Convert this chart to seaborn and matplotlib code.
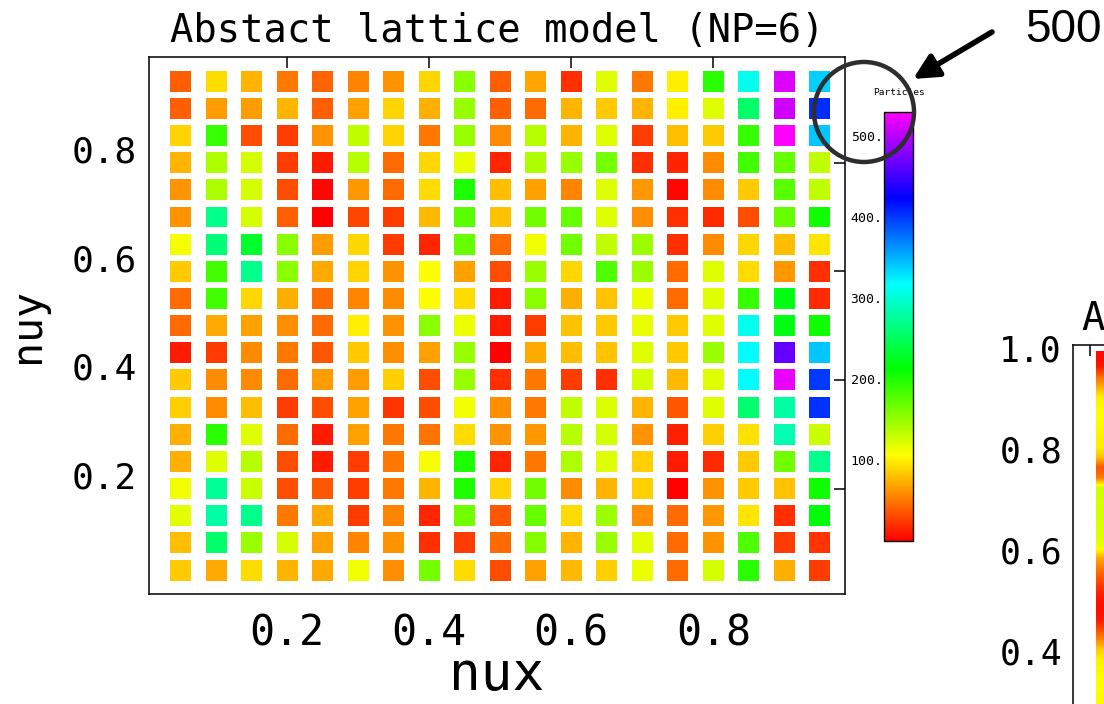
import numpy as np
import pandas as pd
import matplotlib
matplotlib.use("Agg")
import matplotlib.pyplot as plt
import seaborn as sns
from matplotlib.colors import ListedColormap, Normalize, hsv_to_rgb
from matplotlib.cm import ScalarMappable
from matplotlib.patches import Ellipse

# ---- data -------------------------------------------------------------
nux_values = [0.05, 0.10, 0.15, 0.20, 0.25, 0.30, 0.35, 0.40, 0.45, 0.50,
              0.55, 0.60, 0.65, 0.70, 0.75, 0.80, 0.85, 0.90, 0.95]
# rows listed from the top of the lattice (nuy = 0.95) down to nuy = 0.05
nuy_values = [0.95, 0.90, 0.85, 0.80, 0.75, 0.70, 0.65, 0.60, 0.55, 0.50,
              0.45, 0.40, 0.35, 0.30, 0.25, 0.20, 0.15, 0.10, 0.05]

particles = [
    [40, 92, 75, 50, 42, 55, 62, 90, 155, 40, 70, 20, 120, 50, 100, 195, 310, 515, 338],
    [40, 66, 66, 75, 40, 68, 88, 73, 150, 40, 45, 75, 84, 75, 100, 120, 255, 510, 405],
    [88, 190, 33, 25, 62, 133, 88, 50, 150, 58, 137, 75, 120, 25, 79, 84, 190, 530, 341],
    [75, 140, 125, 25, 12, 137, 45, 90, 115, 16, 140, 150, 163, 20, 16, 58, 185, 170, 133],
    [62, 140, 125, 33, 4, 64, 45, 92, 200, 79, 68, 55, 120, 64, 4, 58, 84, 175, 133],
    [62, 270, 125, 40, 0, 29, 25, 77, 175, 81, 165, 170, 120, 60, 20, 18, 33, 170, 205],
    [110, 262, 230, 155, 66, 90, 25, 16, 170, 45, 112, 165, 133, 147, 20, 58, 90, 79, 96],
    [84, 185, 270, 155, 71, 88, 62, 108, 68, 33, 150, 90, 180, 147, 45, 120, 92, 64, 20],
    [45, 185, 90, 73, 45, 55, 58, 108, 92, 12, 155, 73, 81, 114, 45, 120, 190, 220, 18],
    [45, 71, 68, 60, 45, 100, 62, 155, 114, 12, 25, 81, 84, 115, 84, 120, 310, 220, 205],
    [12, 25, 58, 50, 37, 84, 60, 68, 150, 2, 71, 79, 81, 120, 84, 147, 318, 465, 341],
    [84, 58, 58, 45, 66, 66, 86, 33, 150, 20, 50, 25, 20, 125, 77, 120, 318, 520, 400],
    [86, 58, 79, 25, 33, 68, 22, 33, 112, 60, 50, 133, 122, 75, 37, 120, 258, 280, 403],
    [73, 195, 120, 45, 12, 68, 50, 48, 92, 62, 64, 137, 125, 62, 14, 86, 94, 285, 129],
    [73, 120, 137, 33, 12, 25, 50, 110, 200, 16, 50, 140, 120, 86, 12, 18, 84, 165, 270],
    [112, 275, 129, 33, 37, 25, 50, 75, 200, 88, 165, 58, 75, 86, 2, 62, 84, 81, 205],
    [118, 280, 270, 50, 71, 25, 55, 16, 165, 37, 170, 92, 147, 60, 45, 64, 96, 20, 215],
    [79, 255, 150, 125, 68, 55, 62, 20, 25, 45, 157, 75, 150, 118, 45, 62, 180, 25, 22],
    [84, 71, 92, 75, 71, 112, 60, 163, 92, 33, 68, 77, 86, 114, 45, 125, 195, 73, 25],
]

x_ticks = [0.2, 0.4, 0.6, 0.8]
y_ticks = [0.2, 0.4, 0.6, 0.8]
cbar_ticks = [100, 200, 300, 400, 500]

# first column of the neighbouring panel (nuy from top to bottom)
strip_nuy = [1.01, 0.99, 0.97, 0.95, 0.93, 0.91, 0.89, 0.87, 0.85, 0.83,
             0.81, 0.79, 0.77, 0.75, 0.73, 0.71, 0.69, 0.67, 0.65, 0.63,
             0.61, 0.59, 0.57, 0.55, 0.53, 0.51, 0.49, 0.47, 0.45, 0.43,
             0.41, 0.39, 0.37, 0.35, 0.33, 0.31]
strip_particles = [5, 10, 45, 70, 100, 104, 106, 104, 100, 100,
                   80, 35, 50, 125, 125, 122, 125, 120, 118, 110,
                   70, 50, 35, 20, 8, 5, 10, 30, 55, 85,
                   100, 104, 106, 106, 104, 104]
strip_ticks = [0.4, 0.6, 0.8, 1.0]

records = []
for r, nuy in enumerate(nuy_values):
    for c, nux in enumerate(nux_values):
        records.append({"nux": nux, "nuy": nuy, "particles": particles[r][c]})
df = pd.DataFrame(records)

# ---- style ------------------------------------------------------------
sns.set_theme(style="white")
plt.rcParams["font.family"] = ["DejaVu Sans Mono", "DejaVu Sans"]
plt.rcParams["axes.linewidth"] = 1.1
plt.rcParams["text.color"] = "black"
plt.rcParams["axes.labelcolor"] = "black"
plt.rcParams["axes.edgecolor"] = "black"
plt.rcParams["xtick.color"] = "black"
plt.rcParams["ytick.color"] = "black"
plt.rcParams["xtick.labelcolor"] = "black"
plt.rcParams["ytick.labelcolor"] = "black"

# red -> yellow -> green -> cyan -> blue -> magenta
hues = np.linspace(0.0, 300.0 / 360.0, 512)
hsv = np.stack([hues, np.ones_like(hues), np.ones_like(hues)], axis=1)
cmap = ListedColormap(hsv_to_rgb(hsv))
norm = Normalize(vmin=0, vmax=530)

W, H = 1104, 704
fig = plt.figure(figsize=(W / 100, H / 100), dpi=100)
fig.patch.set_facecolor("white")

# ---- main lattice panel -------------------------------------------------
ax = fig.add_axes([149 / W, 1 - 594 / H, 696 / W, 537 / H])
sns.scatterplot(data=df, x="nux", y="nuy", hue="particles", palette=cmap,
                hue_norm=norm, marker="s", s=228, linewidth=0, legend=False,
                ax=ax)
ax.set_xlim(0.0055, 0.9855)
ax.set_ylim(0.006, 0.9945)
ax.set_xticks(x_ticks)
ax.set_yticks(y_ticks)
ax.set_xticklabels([f"{t:.1f}" for t in x_ticks])
ax.set_yticklabels([f"{t:.1f}" for t in y_ticks])
ax.tick_params(axis="both", direction="in", length=8, width=1.1, color="black",
               labelcolor="black", top=True, right=True)
ax.tick_params(axis="x", labelsize=30, pad=13)
ax.tick_params(axis="y", labelsize=26, pad=8.5)
for lab in ax.get_yticklabels():
    lab.set_verticalalignment("baseline")
for sp in ax.spines.values():
    sp.set_color("black")

ax.set_xlabel("nux", fontsize=38, va="baseline", color="black")
ax.xaxis.set_label_coords(0.5, -0.178)
ax.set_ylabel("nuy", fontsize=30, va="center", color="black")
ax.yaxis.set_label_coords(-0.175, 0.5)

fig.text(497 / W, 1 - 42 / H, "Abstact lattice model (NP=6)", fontsize=28,
         ha="center", va="baseline", color="black")

# ---- colour bar ---------------------------------------------------------
cax = fig.add_axes([884 / W, 1 - 541 / H, 29 / W, 429 / H])
cbar = fig.colorbar(ScalarMappable(norm=norm, cmap=cmap), cax=cax)
cbar.set_ticks(cbar_ticks)
cbar.set_ticklabels([f"{t}." for t in cbar_ticks])
cax.yaxis.set_ticks_position("left")
cax.tick_params(axis="y", length=0, pad=1, labelsize=9.5, labelcolor="black")
cbar.outline.set_linewidth(1.0)
cbar.outline.set_edgecolor("black")
fig.text(898.5 / W, 1 - 95 / H, "Particles", fontsize=6.8, ha="center",
         va="baseline", color="black")

# ---- neighbouring panel (partly visible) -------------------------------
ax2 = fig.add_axes([1073 / W, -0.3, 0.3, (915 - 345) / H])
ax2.imshow(np.array(strip_particles, dtype=float)[:, None], cmap=cmap,
           norm=norm, aspect="auto", interpolation="bilinear",
           extent=[0.07, 0.13, strip_nuy[-1] - 0.01, strip_nuy[0] + 0.01])
ax2.set_xlim(0, 1)
ax2.set_ylim(-0.097, 1.032)
ax2.set_yticks(strip_ticks)
ax2.set_yticklabels([f"{t:.1f}" for t in strip_ticks])
ax2.set_xticks([0.05])
ax2.tick_params(axis="both", direction="in", length=8, width=1.1,
                color="black", labelcolor="black", top=True, bottom=False,
                labelbottom=False)
ax2.tick_params(axis="y", labelsize=25, pad=8)
for lab in ax2.get_yticklabels():
    lab.set_verticalalignment("baseline")
for sp in ax2.spines.values():
    sp.set_color("black")
fig.text(1081 / W, 1 - 330 / H, "A", fontsize=28, ha="left", va="baseline",
         color="black")

# ---- call-out: circle, arrow and value ----------------------------------
ring = Ellipse((864 / W, 1 - 112 / H), 100 / W, 100 / H, transform=fig.transFigure,
               fill=False, edgecolor="#2e2e2e", linewidth=3.2, zorder=10)
fig.add_artist(ring)
ax.annotate("", xy=(913, H - 79), xycoords="figure pixels",
            xytext=(992, H - 32), textcoords="figure pixels",
            arrowprops=dict(arrowstyle="-|>,head_length=1.0,head_width=0.5",
                            mutation_scale=15, lw=4, color="black",
                            shrinkA=0, shrinkB=0),
            annotation_clip=False, zorder=11)
fig.text(1063 / W, 1 - 30 / H, "500", fontsize=33, ha="center", va="center",
         color="black", family=["Liberation Sans", "DejaVu Sans"])

fig.savefig("out.png", dpi=100, facecolor="white")
